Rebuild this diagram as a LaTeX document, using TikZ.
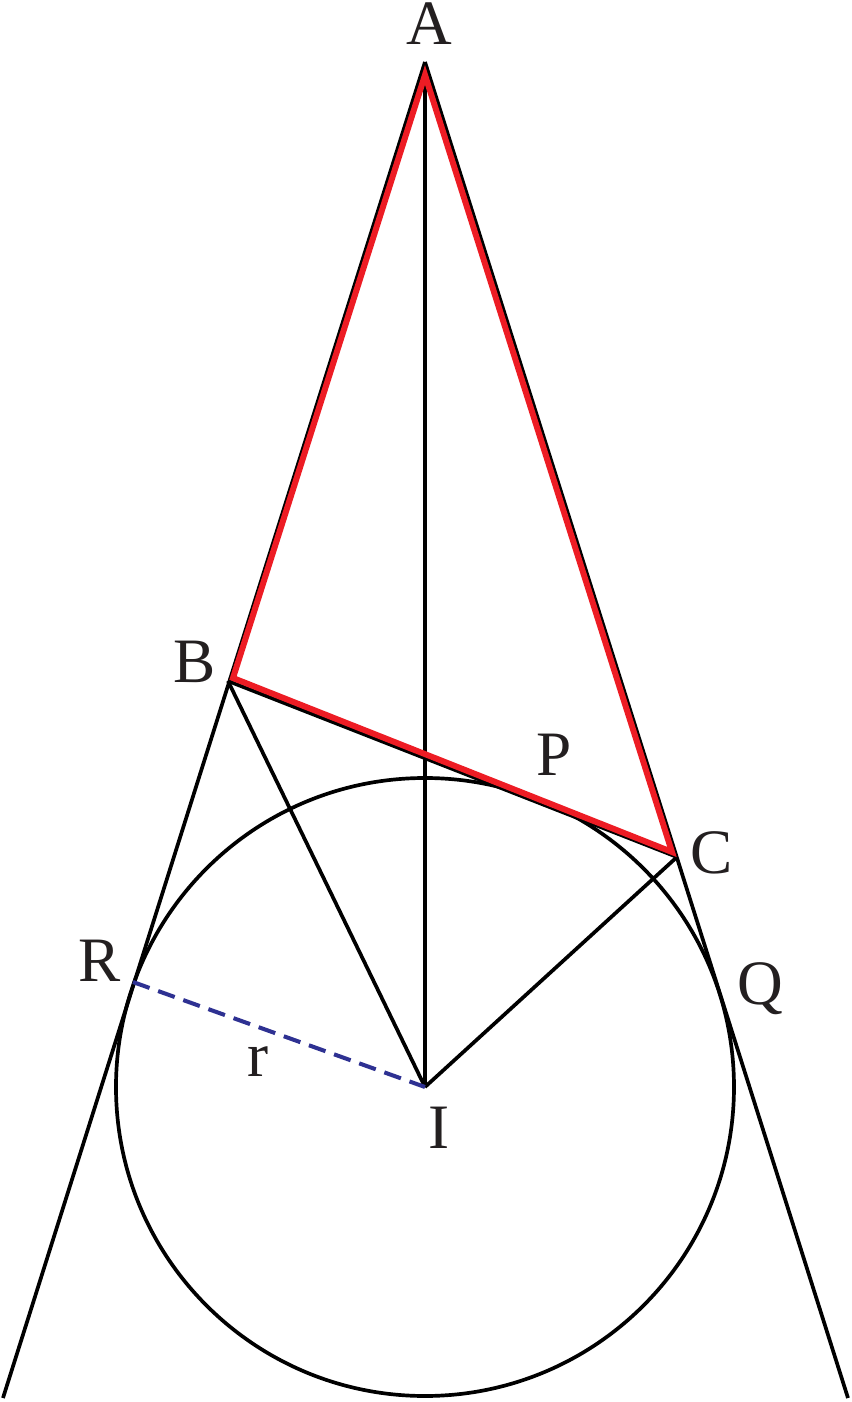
\documentclass[tikz,border=0pt]{standalone}
\usepackage{fontspec}
\setmainfont{Liberation Serif}
\definecolor{trired}{RGB}{237,28,36}
\definecolor{radblue}{RGB}{46,49,146}
\definecolor{lblgray}{RGB}{35,31,32}

\begin{document}
\begin{tikzpicture}[auto,
  geo/.style={line width=1.05pt},
  tri/.style={line width=1.7pt,trired,line join=miter},
  rad/.style={line width=1.15pt,radblue,dash pattern=on 5pt off 2.6pt},
  lbl/.style={inner sep=0pt,text=lblgray,font=\fontsize{18}{20}\selectfont}]
\useasboundingbox (-4.25,-3.15) rectangle (4.26,10.87);
\coordinate (I)  at (0,0);
\coordinate (A)  at (0,10.25);
\coordinate (B)  at (-1.97,4.06);
\coordinate (C)  at (2.52,2.30);
\coordinate (R)  at (-2.92,1.05);
\coordinate (endL) at (-4.22,-3.11);
\coordinate (endR) at (4.23,-3.11);
\coordinate (rA) at (0,10.12);
\coordinate (rB) at (-1.92,4.09);
\coordinate (rC) at (2.47,2.35);
\draw [geo] (I) circle (3.09);
\draw [geo] (A) -- (endL);
\draw [geo] (A) -- (endR);
\draw [geo] (A) -- (I);
\draw [geo] (B) -- (I);
\draw [geo] (C) -- (I);
\draw [geo] (B) -- (C);
\draw [tri] (rA) -- (rB) -- (rC) -- cycle;
\draw [rad] (R) -- (I);
\node (labA) at (0.04,10.63) [lbl] {A};
\node (labB) at (-2.30,4.25) [lbl] {B};
\node (labC) at (2.87,2.34)  [lbl] {C};
\node (labP) at (1.29,3.32)  [lbl] {P};
\node (labR) at (-3.25,1.26) [lbl] {R};
\node (labQ) at (3.35,0.98)  [lbl] {Q};
\node (labI) at (0.14,-0.41) [lbl] {I};
\node (labr) at (-1.67,0.25) [lbl] {r};
\end{tikzpicture}
\end{document}
